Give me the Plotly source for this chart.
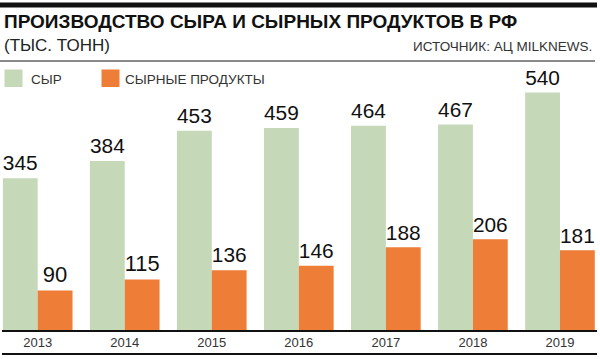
import plotly.graph_objects as go

years = ["2013", "2014", "2015", "2016", "2017", "2018", "2019"]
cheese = [345, 384, 453, 459, 464, 467, 540]
products = [90, 115, 136, 146, 188, 206, 181]

title = "ПРОИЗВОДСТВО СЫРА И СЫРНЫХ ПРОДУКТОВ В РФ"
subtitle = "(ТЫС. ТОНН)"
source = "ИСТОЧНИК: АЦ MILKNEWS."
names = ["СЫР", "СЫРНЫЕ ПРОДУКТЫ"]

GREEN = "#c5d9b8"
ORANGE = "#ee7d37"
W, H = 600, 359
T, B = 0, 29
PH = H - T - B

def py(pix):
    return (H - B - pix) / PH

xs = list(range(len(years)))
num_font = dict(family="Liberation Sans Narrow, Liberation Sans", size=22, color="#111")

fig = go.Figure()
fig.add_trace(go.Bar(x=xs, y=cheese, name=names[0], marker=dict(color=GREEN, line_width=0),
                     text=[str(v) for v in cheese], textposition="outside", textfont=num_font,
                     cliponaxis=False))
fig.add_trace(go.Bar(x=xs, y=products, name=names[1], marker=dict(color=ORANGE, line_width=0),
                     text=[str(v) for v in products], textposition="outside", textfont=num_font,
                     cliponaxis=False))

fig.update_layout(
    width=W, height=H,
    margin=dict(l=0, r=0, t=T, b=B, pad=0),
    paper_bgcolor="white", plot_bgcolor="white",
    barmode="group", bargap=0.2, bargroupgap=0,
    showlegend=False,
    xaxis=dict(range=[-0.433, 6.46], tickvals=xs, ticktext=years, showgrid=False,
               zeroline=False, showline=False, ticks="", ticklabelstandoff=3,
               tickfont=dict(family="Liberation Sans", size=13, color="#333")),
    yaxis=dict(range=[0, PH / 0.44], visible=False, showgrid=False, zeroline=False),
)

shapes = []
# top black bar
shapes.append(dict(type="rect", xref="paper", yref="paper", x0=0, x1=597 / W,
                   y0=py(7.5), y1=py(2.5), fillcolor="#111111", line=dict(width=0)))
# grey separator
shapes.append(dict(type="line", xref="paper", yref="paper", x0=0, x1=595 / W,
                   y0=py(61), y1=py(61), line=dict(color="#8a8a8a", width=2)))
# axis line
shapes.append(dict(type="line", xref="paper", yref="paper", x0=2 / W, x1=597 / W,
                   y0=py(331), y1=py(331), line=dict(color="#111111", width=2)))
# bottom line
shapes.append(dict(type="line", xref="paper", yref="paper", x0=2 / W, x1=597 / W,
                   y0=py(354), y1=py(354), line=dict(color="#111111", width=2)))
# legend swatches
shapes.append(dict(type="rect", xref="paper", yref="paper", x0=4.5 / W, x1=22.5 / W,
                   y0=py(87), y1=py(69.5), fillcolor=GREEN, line_width=0))
shapes.append(dict(type="rect", xref="paper", yref="paper", x0=101.5 / W, x1=119.5 / W,
                   y0=py(87), y1=py(69.5), fillcolor=ORANGE, line_width=0))
fig.update_layout(shapes=shapes)

ann = []
ann.append(dict(text="<b>" + title + "</b>", xref="paper", yref="paper", x=2 / W, y=py(22),
                xanchor="left", yanchor="middle", showarrow=False,
                font=dict(family="Liberation Sans", size=19, color="#111")))
ann.append(dict(text=subtitle, xref="paper", yref="paper", x=2 / W, y=py(45.5),
                xanchor="left", yanchor="middle", showarrow=False,
                font=dict(family="Liberation Sans", size=17, color="#222")))
ann.append(dict(text=source, xref="paper", yref="paper", x=594 / W, y=py(46.5),
                xanchor="right", yanchor="middle", showarrow=False,
                font=dict(family="Liberation Sans", size=13.5, color="#333")))
ann.append(dict(text=names[0], xref="paper", yref="paper", x=29 / W, y=py(79),
                xanchor="left", yanchor="middle", showarrow=False,
                font=dict(family="Liberation Sans", size=13.5, color="#333")))
ann.append(dict(text=names[1], xref="paper", yref="paper", x=123 / W, y=py(79),
                xanchor="left", yanchor="middle", showarrow=False,
                font=dict(family="Liberation Sans", size=13.5, color="#333")))
fig.update_layout(annotations=ann)

fig.write_html("out.html", config={"displayModeBar": False},
               post_script="document.body.style.margin='0';document.body.style.overflow='hidden';")
